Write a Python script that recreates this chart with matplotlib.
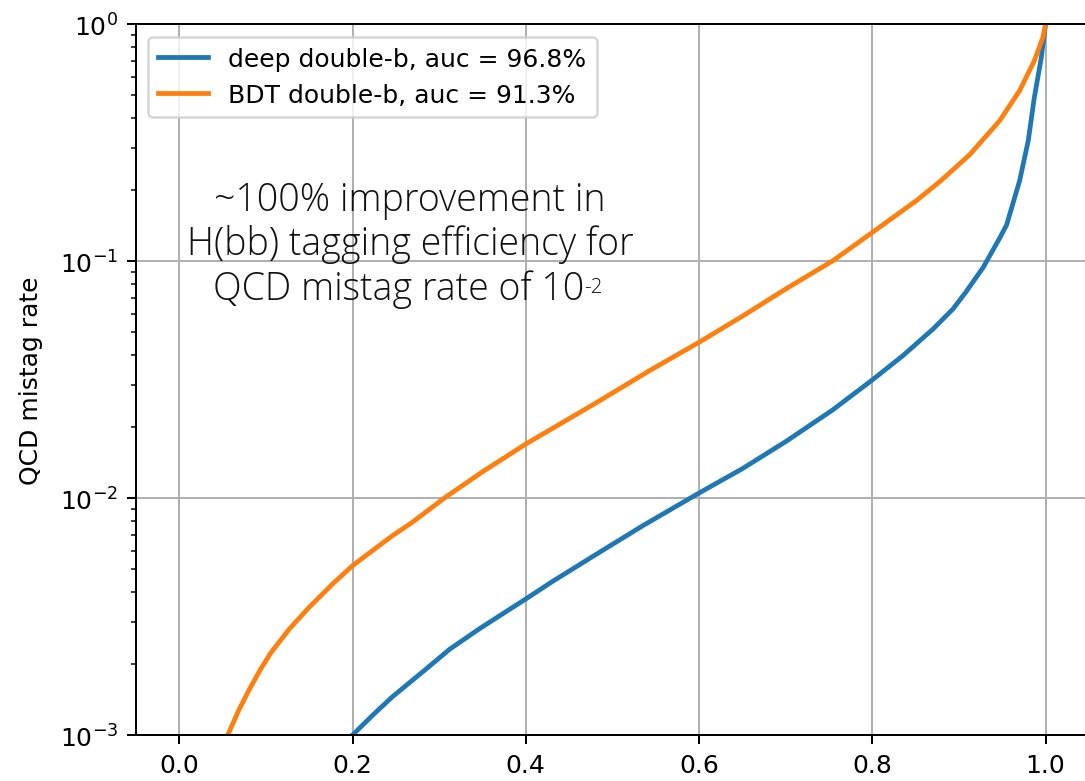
import matplotlib
matplotlib.use("Agg")
import matplotlib.pyplot as plt

# ROC-style curves: signal efficiency vs QCD mistag rate
deep_eff = [0.200, 0.223, 0.246, 0.285, 0.312, 0.346, 0.370, 0.400, 0.431,
            0.485, 0.535, 0.600, 0.650, 0.700, 0.754, 0.800, 0.835, 0.870,
            0.893, 0.908, 0.928, 0.947, 0.955, 0.970, 0.980, 0.987, 0.995,
            1.000]
deep_mistag = [1.0e-3, 1.21e-3, 1.45e-3, 1.90e-3, 2.3e-3, 2.8e-3, 3.19e-3,
               3.75e-3, 4.45e-3, 5.9e-3, 7.64e-3, 1.05e-2, 1.33e-2, 1.73e-2,
               2.35e-2, 3.15e-2, 3.98e-2, 5.16e-2, 6.27e-2, 7.4e-2, 9.4e-2,
               0.125, 0.142, 0.218, 0.322, 0.49, 0.72, 1.0]

bdt_eff = [0.056, 0.069, 0.081, 0.094, 0.106, 0.127, 0.150, 0.177, 0.200,
           0.223, 0.246, 0.269, 0.306, 0.350, 0.400, 0.447, 0.485, 0.543,
           0.600, 0.651, 0.700, 0.754, 0.800, 0.851, 0.879, 0.912, 0.947,
           0.970, 0.987, 0.997, 1.000]
bdt_mistag = [1.0e-3, 1.28e-3, 1.56e-3, 1.90e-3, 2.23e-3, 2.80e-3, 3.46e-3,
              4.34e-3, 5.18e-3, 6.0e-3, 6.93e-3, 7.9e-3, 1.0e-2, 1.29e-2,
              1.69e-2, 2.13e-2, 2.57e-2, 3.45e-2, 4.54e-2, 5.88e-2, 7.62e-2,
              0.100, 0.132, 0.180, 0.218, 0.280, 0.391, 0.523, 0.70, 0.88,
              1.0]

labels = ["deep double-b, auc = 96.8%", "BDT double-b, auc = 91.3%"]

note_lines = ["~100% improvement in", "H(bb) tagging efficiency for",
              "QCD mistag rate of 10"]
note_sup = "-2"

# the figure, at a dpi that gives the original proportions
fig = plt.figure(figsize=(1085 / 180, 782 / 180), dpi=180)

# the axes run past the right edge, as in the cropped original
ax = fig.add_axes([0.1253, 0.0588, 0.8783, 0.9092])

ax.plot(deep_eff, deep_mistag, lw=1.9, label=labels[0])
ax.plot(bdt_eff, bdt_mistag, lw=1.9, label=labels[1])

ax.set_yscale("log")
ax.set_xlim(-0.05, 1.05)
ax.set_ylim(1e-3, 1.0)
ax.grid(True)
ax.set_ylabel("QCD mistag rate", labelpad=6.8)
ax.legend(loc="upper left")

# the note pasted onto the plot
note_font = dict(family=["Open Sans", "DejaVu Sans"], weight="light",
                 fontsize=15.0, color="#111111")
ax.text(0.2875, 0.7388, note_lines[0], transform=ax.transAxes,
        ha="center", va="baseline", **note_font)
ax.text(0.2875, 0.6765, note_lines[1], transform=ax.transAxes,
        ha="center", va="baseline", **note_font)
t3 = ax.text(0.470, 0.6132, note_lines[2], transform=ax.transAxes,
             ha="right", va="baseline", **note_font)
sup_font = dict(note_font, fontsize=8.2)
ax.annotate(note_sup, xy=(1.0, 0.6226), xycoords=(t3, "axes fraction"),
            xytext=(0, 0), textcoords="offset points",
            ha="left", va="baseline", **sup_font)

fig.savefig("out.png", dpi=180)
